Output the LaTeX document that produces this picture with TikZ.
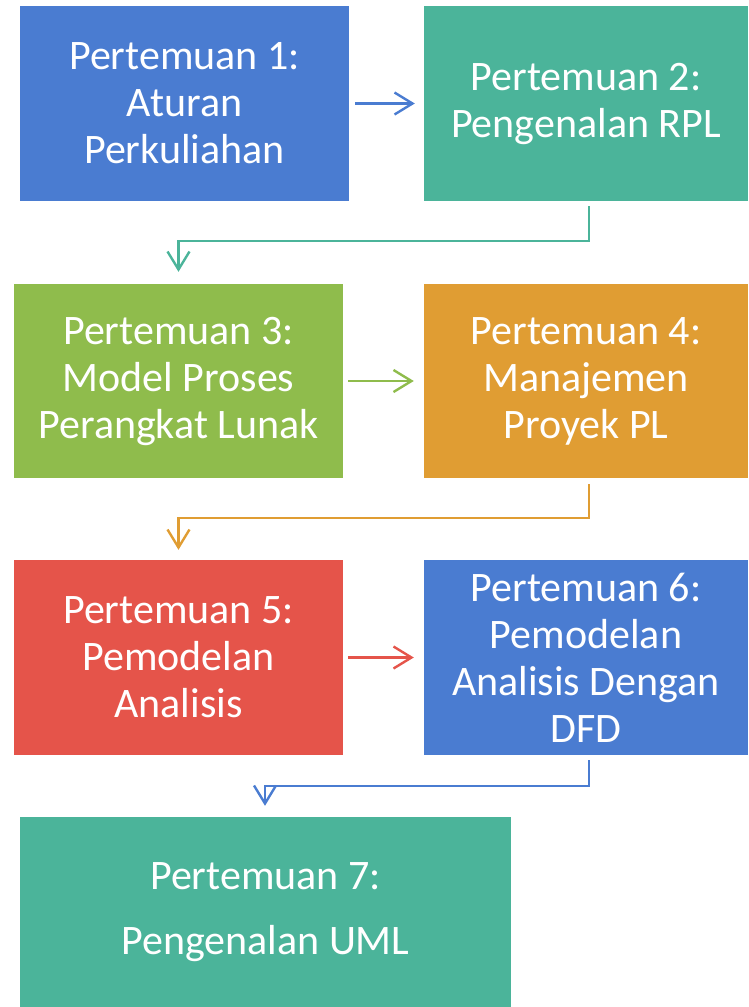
\documentclass[tikz,border=0pt]{standalone}
\usepackage{fontspec}
\setmainfont{Carlito}
\usetikzlibrary{arrows.meta,calc}
\definecolor{cblue}{HTML}{4A7CD1}
\definecolor{cteal}{HTML}{4BB49A}
\definecolor{cgreen}{HTML}{8FBC4C}
\definecolor{corange}{HTML}{E09D33}
\definecolor{cred}{HTML}{E5544A}
\tikzset{
  box/.style={fill=#1, draw=none, text=white, inner sep=0pt, align=center,
    minimum width=329pt, minimum height=195pt,
    font=\fontsize{42}{47}\selectfont},
  conn/.style={draw=#1, line width=2.4pt,
    -{Straight Barb[length=18pt,width=22pt,line width=2.4pt]}},
}
\begin{document}
\begin{tikzpicture}[x=1pt,y=-1pt]
\useasboundingbox (0,0) rectangle (748,1007);
\node[box=cblue] (n1) at (184.5,103.5) {Pertemuan 1:\\Aturan\\Perkuliahan};
\node[box=cteal, minimum width=324pt] (n2) at (586,103.5) {Pertemuan 2:\\Pengenalan RPL};
\node[box=cgreen, minimum height=194pt] (n3) at (178.5,381) {Pertemuan 3:\\Model Proses\\Perangkat Lunak};
\node[box=corange, minimum width=324pt, minimum height=194pt] (n4) at (586,381) {Pertemuan 4:\\Manajemen\\Proyek PL};
\node[box=cred] (n5) at (178.5,657.5) {Pertemuan 5:\\Pemodelan\\Analisis};
\node[box=cblue, minimum width=324pt] (n6) at (586,657.5) {Pertemuan 6:\\Pemodelan\\Analisis Dengan\\DFD};
\node[box=cteal, minimum width=491pt, minimum height=190pt] (n7) at (265.5,912) {Pertemuan 7:\\[18pt]Pengenalan UML};
\draw[conn=cblue] ([xshift=6pt]n1.east) -- ([xshift=-9pt]n2.west);
\draw[conn=cgreen] ([xshift=5pt]n3.east) -- ([xshift=-10pt]n4.west);
\draw[conn=cred] ([xshift=5pt]n5.east) -- ([xshift=-10pt]n6.west);
\draw[conn=cteal] ([xshift=3pt,yshift=-5pt]n2.south) |- ([yshift=43pt]n3.north) -- ([yshift=12pt]n3.north);
\draw[conn=corange] ([xshift=3pt,yshift=-6pt]n4.south) |- ([yshift=42pt]n5.north) -- ([yshift=10pt]n5.north);
\draw[conn=cblue] ([xshift=3pt,yshift=-5pt]n6.south) |- ([yshift=31pt,xshift=-0.5pt]n7.north) -- ([yshift=11pt,xshift=-0.5pt]n7.north);
\end{tikzpicture}
\end{document}
